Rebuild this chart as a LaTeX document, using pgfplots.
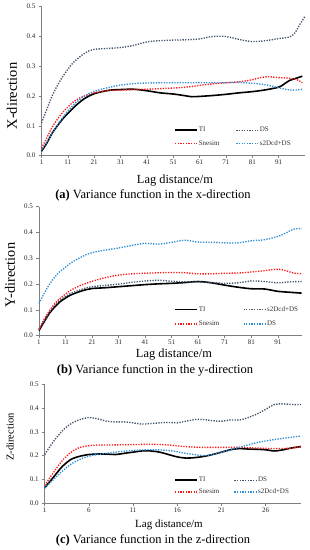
\documentclass[border=0pt]{standalone}
\usepackage{fontspec}
\setmainfont{Liberation Serif}
\usepackage{pgfplots}
\pgfplotsset{compat=1.18}
\definecolor{snred}{HTML}{FF1A1A}
\definecolor{dsdark}{HTML}{44546A}
\definecolor{ltblue}{HTML}{2E8FD6}
\definecolor{axgray}{HTML}{7F7F7F}
\tikzset{
  tiline/.style={black, line width=1.6pt},
  dotline/.style={line width=1.35pt, dash pattern=on 1.3pt off 1.35pt},
}
\pgfplotsset{
  panel/.style={
    scale only axis,
    anchor=south west,
    axis lines=left,
    axis line style={draw=axgray, line width=0.6pt, -},
    ymin=0, ymax=0.5,
    ytick={0,0.1,0.2,0.3,0.4,0.5},
    yticklabel style={/pgf/number format/.cd, fixed, fixed zerofill, precision=1},
    /pgf/number format/assume math mode=true,
    ticklabel style={font=\fontsize{7}{8}\selectfont, text=black!85},
    xticklabel style={inner sep=1.5pt},
    tick style={draw=axgray, line width=0.5pt},
    tick align=outside,
    major tick length=2.5pt,
    xtick pos=bottom, ytick pos=left,
    clip=false,
    legend columns=2,
    legend cell align=left,
    legend image code/.code={\coordinate (lgb) at (0pt,-2.2pt); \draw[##1] (0pt,0pt) -- (22pt,0pt);},
  },
}
\begin{document}
\begin{tikzpicture}[x=1pt,y=1pt]
\path[use as bounding box] (0,-550) rectangle (310,0);

% ---------------- Panel (a) ----------------
\begin{axis}[panel,
  at={(41.5pt,-155.7pt)}, width=263.5pt, height=149pt,
  xmin=1, xmax=101, xtick={1,11,21,31,41,51,61,71,81,91},
  legend style={at={(axis description cs:0.503,0.201)}, anchor=north west,
    draw=none, fill=none, inner sep=0pt, row sep=5pt, column sep=0pt,
    nodes={inner sep=1pt, font=\fontsize{7}{8}\selectfont, text=black!80, text height=5pt, text depth=1.5pt}},
]
\addplot[tiline, smooth] coordinates {(1,0.015)(3,0.042)(5,0.075)(7,0.100)(9,0.123)(11,0.142)(13,0.160)(15,0.176)(17,0.190)(19,0.200)(21,0.208)(24,0.215)(27,0.220)(31,0.222)(36,0.223)(41,0.218)(46,0.211)(51,0.207)(55,0.202)(58,0.198)(61,0.199)(66,0.202)(71,0.206)(76,0.211)(81,0.215)(86,0.221)(91,0.230)(93,0.240)(95,0.252)(97,0.258)(100,0.267)};
\addlegendentry{\makebox[35.7pt][l]{TI}}
\addplot[dotline, dsdark, smooth] coordinates {(1,0.11)(3,0.155)(5,0.2)(7,0.235)(9,0.265)(11,0.29)(13,0.312)(16,0.335)(19,0.352)(21,0.357)(26,0.36)(31,0.363)(36,0.37)(41,0.382)(46,0.386)(51,0.388)(56,0.389)(61,0.392)(66,0.4)(71,0.4)(76,0.39)(81,0.383)(86,0.386)(91,0.393)(95,0.398)(97,0.41)(99,0.44)(101,0.468)};
\addlegendentry{\makebox[35.7pt][l]{DS}}
\addplot[dotline, snred, smooth] coordinates {(1,0.025)(3,0.06)(5,0.095)(7,0.122)(9,0.145)(11,0.163)(13,0.180)(16,0.196)(19,0.206)(21,0.211)(26,0.218)(31,0.220)(36,0.222)(41,0.223)(46,0.225)(51,0.227)(56,0.230)(61,0.236)(66,0.241)(71,0.245)(76,0.248)(81,0.255)(84,0.262)(87,0.265)(91,0.262)(95,0.260)(98,0.255)(100,0.245)};
\addlegendentry{\makebox[35.7pt][l]{Snesim}}
\addplot[dotline, ltblue, smooth] coordinates {(1,0.018)(3,0.045)(5,0.075)(7,0.102)(9,0.127)(11,0.150)(13,0.170)(16,0.192)(19,0.208)(21,0.216)(26,0.228)(31,0.237)(36,0.242)(41,0.244)(51,0.245)(61,0.245)(71,0.245)(76,0.246)(81,0.243)(86,0.238)(91,0.228)(94,0.222)(97,0.220)(100,0.223)};
\addlegendentry{\makebox[35.7pt][l]{s2Dcd+DS}}
\end{axis}
\node[rotate=90, inner sep=0pt, font=\fontsize{14.5}{16}\selectfont] at (12,-96) {X-direction};
\node[inner sep=0pt, font=\fontsize{12.4}{14}\selectfont] at (175,-181) {Lag distance/m};
\node[inner sep=0pt, font=\fontsize{12.5}{14}\selectfont] at (153,-195.5) {\textbf{(a)} Variance function in the x-direction};

% ---------------- Panel (b) ----------------
\begin{axis}[panel,
  at={(39pt,-335.7pt)}, width=262.7pt, height=129pt,
  xmin=1, xmax=100, xtick={1,11,21,31,41,51,61,71,81,91},
  legend style={at={(axis description cs:0.514,0.238)}, anchor=north west,
    draw=none, fill=none, inner sep=0pt, row sep=5.9pt, column sep=0pt,
    nodes={inner sep=1pt, font=\fontsize{7}{8}\selectfont, text=black!80, text height=5pt, text depth=1.5pt}},
]
\addplot[tiline, smooth] coordinates {(1,0.02)(3,0.055)(5,0.088)(7,0.112)(9,0.132)(11,0.146)(13,0.158)(16,0.170)(19,0.179)(21,0.183)(26,0.186)(31,0.190)(36,0.194)(41,0.198)(46,0.201)(51,0.203)(56,0.206)(61,0.210)(66,0.205)(71,0.196)(76,0.188)(81,0.182)(86,0.181)(91,0.172)(96,0.168)(100,0.165)};
\addlegendentry{\makebox[43pt][l]{TI}}
\addplot[dotline, dsdark, smooth] coordinates {(1,0.022)(3,0.058)(5,0.092)(7,0.118)(9,0.138)(11,0.152)(13,0.164)(16,0.176)(19,0.186)(21,0.190)(26,0.195)(31,0.200)(36,0.207)(41,0.212)(46,0.215)(51,0.211)(56,0.209)(61,0.208)(66,0.206)(71,0.203)(76,0.205)(81,0.212)(86,0.210)(91,0.205)(96,0.209)(100,0.210)};
\addlegendentry{\makebox[43pt][l]{s2Dcd+DS}}
\addplot[dotline, snred, smooth] coordinates {(1,0.025)(3,0.065)(5,0.098)(7,0.125)(9,0.145)(11,0.162)(13,0.176)(16,0.192)(19,0.204)(21,0.211)(26,0.225)(31,0.235)(36,0.240)(41,0.242)(46,0.244)(51,0.245)(56,0.244)(61,0.240)(66,0.240)(71,0.242)(76,0.243)(81,0.247)(86,0.252)(91,0.258)(94,0.252)(97,0.243)(100,0.240)};
\addlegendentry{\makebox[43pt][l]{Snesim}}
\addplot[dotline, ltblue, smooth] coordinates {(1,0.125)(3,0.165)(5,0.2)(7,0.228)(9,0.25)(11,0.265)(13,0.282)(16,0.3)(19,0.315)(21,0.322)(26,0.332)(31,0.34)(36,0.35)(41,0.358)(46,0.355)(51,0.362)(56,0.37)(61,0.363)(66,0.362)(71,0.36)(76,0.36)(81,0.368)(86,0.372)(91,0.385)(94,0.398)(97,0.413)(100,0.415)};
\addlegendentry{\makebox[43pt][l]{DS}}
\end{axis}
\node[rotate=90, inner sep=0pt, font=\fontsize{14.3}{16}\selectfont] at (10,-275) {Y-direction};
\node[inner sep=0pt, font=\fontsize{12.4}{14}\selectfont] at (174,-355) {Lag distance/m};
\node[inner sep=0pt, font=\fontsize{12.5}{14}\selectfont] at (155,-370.5) {\textbf{(b)} Variance function in the y-direction};

% ---------------- Panel (c) ----------------
\begin{axis}[panel,
  at={(44.7pt,-503.3pt)}, width=256.3pt, height=119pt,
  xmin=1, xmax=30, xtick={1,6,11,16,21,26},
  legend style={at={(axis description cs:0.5045,0.2315)}, anchor=north west,
    draw=none, fill=none, inner sep=0pt, row sep=3.2pt, column sep=0pt,
    nodes={inner sep=1pt, font=\fontsize{7}{8}\selectfont, text=black!80, text height=5pt, text depth=1.5pt}},
]
\addplot[tiline, smooth] coordinates {(1,0.065)(2,0.11)(3,0.155)(4,0.185)(5,0.198)(6,0.205)(7,0.207)(8,0.207)(9,0.205)(10,0.21)(11,0.215)(12,0.22)(13,0.22)(14,0.215)(15,0.205)(16,0.195)(17,0.19)(18,0.192)(19,0.197)(20,0.205)(21,0.215)(22,0.225)(23,0.23)(24,0.228)(25,0.227)(26,0.225)(27,0.22)(28,0.225)(29,0.233)(30,0.238)};
\addlegendentry{\makebox[34pt][l]{TI}}
\addplot[dotline, dsdark, smooth] coordinates {(1,0.205)(2,0.26)(3,0.305)(4,0.335)(5,0.352)(6,0.36)(7,0.355)(8,0.345)(9,0.342)(10,0.342)(11,0.338)(12,0.333)(13,0.335)(14,0.338)(15,0.34)(16,0.338)(17,0.345)(18,0.352)(19,0.352)(20,0.347)(21,0.345)(22,0.35)(23,0.35)(24,0.36)(25,0.375)(26,0.395)(27,0.415)(28,0.418)(29,0.415)(30,0.415)};
\addlegendentry{\makebox[34pt][l]{DS}}
\addplot[dotline, snred, smooth] coordinates {(1,0.075)(2,0.13)(3,0.18)(4,0.215)(5,0.235)(6,0.242)(7,0.245)(8,0.245)(10,0.246)(13,0.248)(15,0.245)(17,0.238)(19,0.235)(21,0.235)(23,0.235)(25,0.232)(27,0.23)(29,0.232)(30,0.24)};
\addlegendentry{\makebox[34pt][l]{Snesim}}
\addplot[dotline, ltblue, smooth] coordinates {(1,0.065)(2,0.1)(3,0.135)(4,0.165)(5,0.185)(6,0.198)(7,0.205)(9,0.215)(11,0.222)(13,0.225)(15,0.222)(17,0.21)(19,0.2)(20,0.205)(21,0.215)(23,0.235)(25,0.255)(27,0.268)(29,0.278)(30,0.283)};
\addlegendentry{\makebox[34pt][l]{s2Dcd+DS}}
\end{axis}
\node[rotate=90, inner sep=0pt, font=\fontsize{10.5}{12}\selectfont] at (10,-437) {Z-direction};
\node[inner sep=0pt, font=\fontsize{11}{13}\selectfont] at (169,-524.5) {Lag distance/m};
\node[inner sep=0pt, font=\fontsize{12.5}{14}\selectfont] at (153,-540.5) {\textbf{(c)} Variance function in the z-direction};
\end{tikzpicture}
\end{document}
